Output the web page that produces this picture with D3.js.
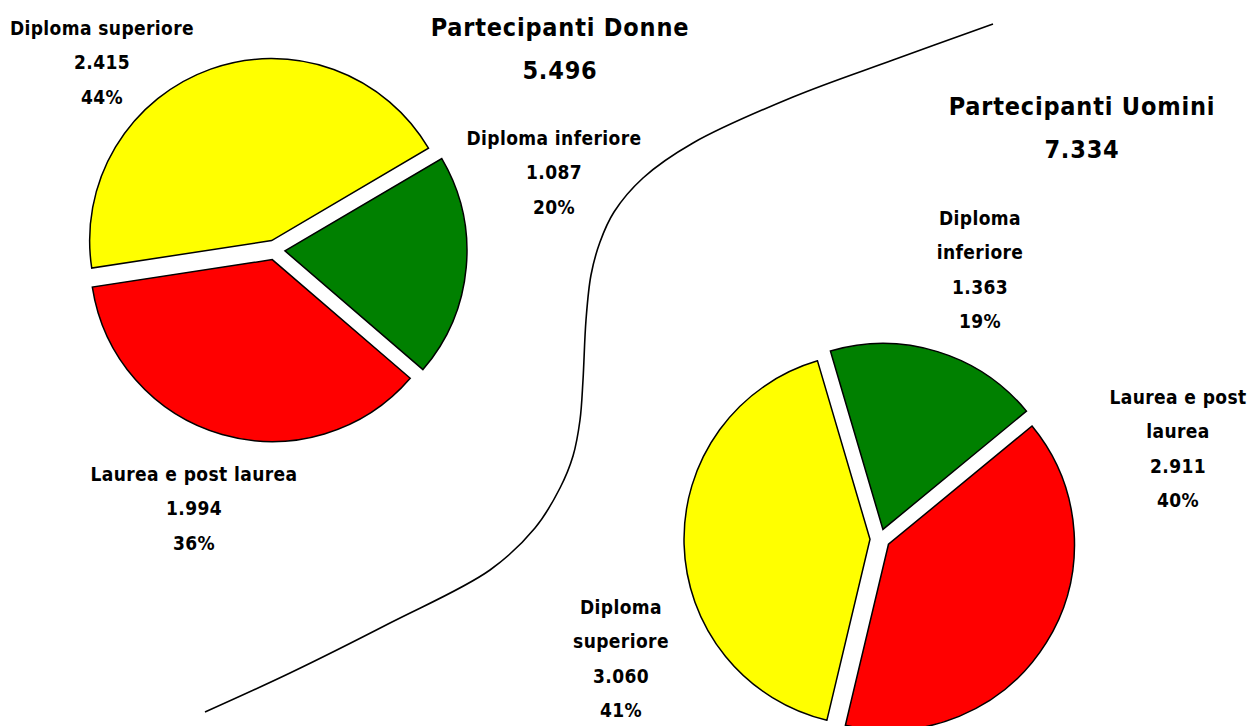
<!DOCTYPE html>
<html>
<head>
<meta charset="utf-8">
<script src="https://cdn.jsdelivr.net/npm/d3@7"></script>
<style>
  html, body { margin: 0; padding: 0; background: #fff; }
  svg { display: block; }
  text { font-family: "DejaVu Sans Condensed", "DejaVu Sans", sans-serif; font-stretch: condensed; font-weight: bold; fill: #000; }
</style>
</head>
<body>
<svg id="chart" width="1252" height="726"></svg>
<script>
// Education level of participants, split by gender
const categories = ["Diploma inferiore", "Laurea e post laurea", "Diploma superiore"];
const colors = ["#008000", "#ff0000", "#ffff00"];

const donneValues = [1087, 1994, 2415];
const donneTotal = 5496;
const donnePercents = ["20%", "36%", "44%"];

const uominiValues = [1363, 2911, 3060];
const uominiTotal = 7334;
const uominiPercents = ["19%", "40%", "41%"];

// Italian number format: "." as thousands separator
const it = d3.formatLocale({ decimal: ",", thousands: ".", grouping: [3], currency: ["€", ""] });
const fmt = it.format(",d");

const svg = d3.select("#chart");

// Decorative S-shaped divider between the two charts
const divider = [[205,712],[290,673],[390,623],[490,570],[535,528],[560,488],[573,456],[580,420],[583,380],[586,320],[591,275],[600,242],[614,212],[643,178],[693,143],[793,97],[893,60],[993,24]];
svg.append("path")
  .attr("d", d3.line().curve(d3.curveCatmullRom.alpha(0.5))(divider))
  .attr("fill", "none")
  .attr("stroke", "#000")
  .attr("stroke-width", 1.6);

const deg = Math.PI / 180;

function drawPie(cfg) {
  const pie = d3.pie().sort(null)
    .startAngle(cfg.startDeg * deg)
    .endAngle(cfg.startDeg * deg + 2 * Math.PI);
  const arc = d3.arc().innerRadius(0).outerRadius(cfg.radius);
  const g = svg.append("g").attr("transform", `translate(${cfg.cx},${cfg.cy})`);
  g.selectAll("path")
    .data(pie(cfg.values))
    .join("path")
    .attr("transform", d => {
      const a = (d.startAngle + d.endAngle) / 2;
      return `translate(${Math.sin(a) * cfg.explode},${-Math.cos(a) * cfg.explode})`;
    })
    .attr("d", arc)
    .attr("fill", (d, i) => colors[i])
    .attr("stroke", "#000")
    .attr("stroke-width", 1.5)
    .attr("stroke-linejoin", "miter");

  // Title block
  const t = svg.append("text")
    .attr("text-anchor", "middle")
    .style("font-size", "25px")
    .style("letter-spacing", "0.8px");
  t.append("tspan").attr("x", cfg.title.x).attr("y", cfg.title.y).text(cfg.titleText);
  t.append("tspan").attr("x", cfg.title.x).attr("y", cfg.title.y + 43).text(fmt(cfg.total));

  // Slice labels: name, value, percent
  cfg.values.forEach((v, i) => {
    const pos = cfg.labels[i];
    const lines = pos.nameLines.concat([fmt(v), cfg.percents[i]]);
    const lt = svg.append("text")
      .attr("text-anchor", "middle")
      .style("font-size", "19px")
      .style("letter-spacing", "0.4px");
    lines.forEach((s, k) => {
      lt.append("tspan").attr("x", pos.x).attr("y", pos.y + k * 34.3).text(s);
    });
  });
}

drawPie({
  values: donneValues, total: donneTotal, percents: donnePercents,
  titleText: "Partecipanti Donne",
  cx: 275, cy: 250, radius: 182, explode: 10, startDeg: 59.5,
  title: { x: 560, y: 36 },
  labels: [
    { x: 554, y: 145, nameLines: ["Diploma inferiore"] },
    { x: 194, y: 481, nameLines: ["Laurea e post laurea"] },
    { x: 102, y: 35, nameLines: ["Diploma superiore"] }
  ]
});

drawPie({
  values: uominiValues, total: uominiTotal, percents: uominiPercents,
  titleText: "Partecipanti Uomini",
  cx: 880, cy: 539, radius: 186, explode: 10, startDeg: 343.6,
  title: { x: 1082, y: 115 },
  labels: [
    { x: 980, y: 225, nameLines: ["Diploma", "inferiore"] },
    { x: 1178, y: 404, nameLines: ["Laurea e post", "laurea"] },
    { x: 621, y: 614, nameLines: ["Diploma", "superiore"] }
  ]
});
</script>
</body>
</html>
